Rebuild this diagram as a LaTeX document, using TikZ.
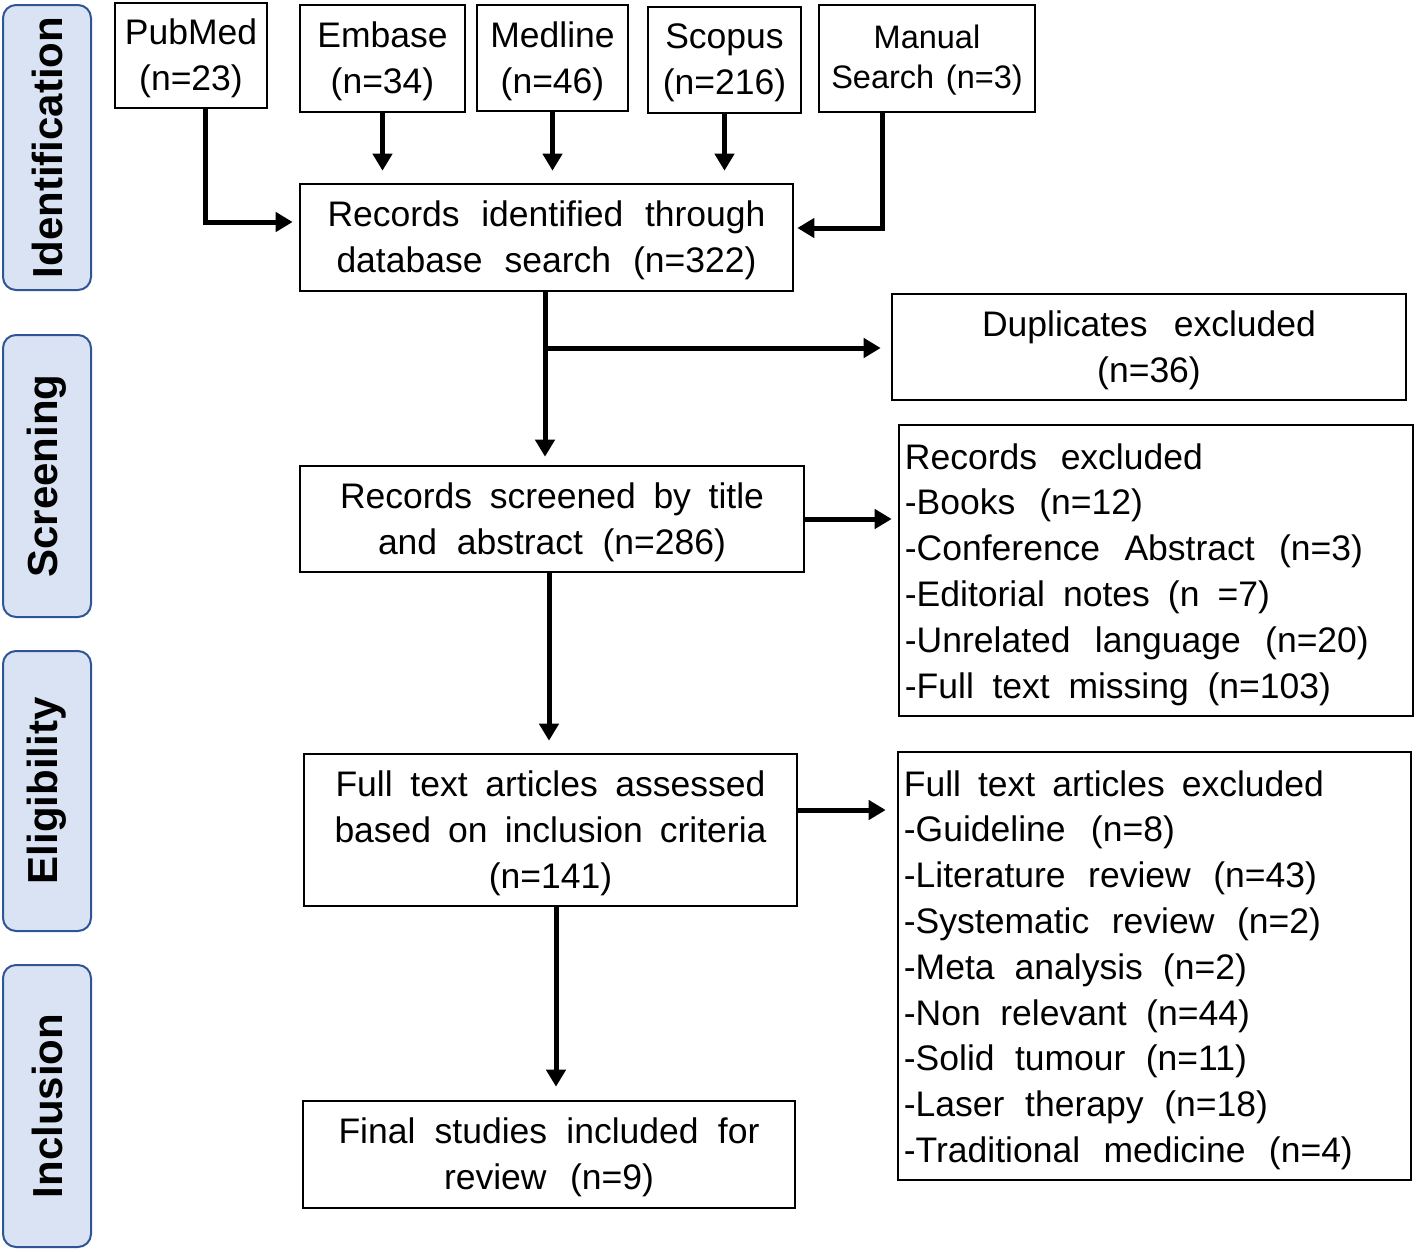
\documentclass[tikz,border=0pt]{standalone}
\usepackage{fontspec}
\setmainfont{Liberation Sans}
\newfontfamily\boxfont[WordSpace=2.0]{Liberation Sans}
\newfontfamily\listfont[WordSpace=2.0]{Liberation Sans}
\newfontfamily\manfont[WordSpace=1.3]{Liberation Sans}
\usetikzlibrary{arrows.meta}
\newcommand\jline[2]{\makebox[#1pt][s]{#2}}
\definecolor{sidefill}{RGB}{218,227,243}
\definecolor{sidedraw}{RGB}{47,85,151}
\tikzset{
  frame/.style={draw, line width=2.6pt, inner sep=0pt},
  ctext/.style={inner sep=0pt, align=center, font=\boxfont\fontsize{35.5}{46}\selectfont},
  ltext/.style={inner sep=0pt, align=left, font=\listfont\fontsize{35.5}{45.8}\selectfont},
  side/.style={draw=sidedraw, fill=sidefill, line width=2pt, rounded corners=13pt,
    minimum width=88pt, inner sep=0pt},
  sidetext/.style={rotate=90, font=\bfseries\fontsize{42}{48}\selectfont},
  arr/.style={line width=5pt, -{Triangle[length=17pt,width=19pt]}},
}
\begin{document}
\begin{tikzpicture}[x=1pt,y=-1pt]
\useasboundingbox (0,0) rectangle (1416,1251);
% side labels
\node[side, minimum height=285pt] (sid) at (47,147.5) {};
\node[sidetext] (tid) at (sid.center) {Identification};
\node[side, minimum height=282pt] (ssc) at (47,476) {};
\node[sidetext] (tsc) at (ssc.center) {Screening};
\node[side, minimum height=280pt] (sel) at (47,791) {};
\node[sidetext] (tel) at (sel.center) {Eligibility};
\node[side, minimum height=282pt] (sin) at (47,1106) {};
\node[sidetext] (tin) at (sin.center) {Inclusion};
% sources
\node[frame, minimum width=152pt, minimum height=105pt] (pub) at (191,55.5) {};
\node[ctext] (pubt) at ([yshift=-3pt]pub.center) {PubMed\\(n=23)};
\node[frame, minimum width=165pt, minimum height=107pt] (emb) at (382.5,58.5) {};
\node[ctext] (embt) at ([yshift=-3pt]emb.center) {Embase\\(n=34)};
\node[frame, minimum width=151pt, minimum height=106pt] (med) at (552.5,58) {};
\node[ctext] (medt) at ([yshift=-3pt]med.center) {Medline\\(n=46)};
\node[frame, minimum width=153pt, minimum height=106pt] (sco) at (724.5,60) {};
\node[ctext] (scot) at ([yshift=-3pt]sco.center) {Scopus\\(n=216)};
\node[frame, minimum width=216pt, minimum height=107pt] (man) at (927,58.5) {};
\node[ctext, font=\manfont\fontsize{32.5}{40}\selectfont] (mant) at ([yshift=-2pt]man.center) {Manual\\Search (n=3)};
% main flow
\node[frame, minimum width=493pt, minimum height=107pt] (rid) at (546.5,237.5) {};
\node[ctext] (ridt) at ([yshift=-3pt]rid.center) {\jline{438}{Records identified through}\\\jline{420}{database search (n=322)}};
\node[frame, minimum width=514pt, minimum height=106pt] (dup) at (1149,347) {};
\node[ctext] (dupt) at ([yshift=-3pt]dup.center) {\jline{334}{Duplicates excluded}\\(n=36)};
\node[frame, minimum width=504pt, minimum height=106pt] (rsc) at (552,519) {};
\node[ctext] (rsct) at ([yshift=-3pt]rsc.center) {\jline{424}{Records screened by title}\\\jline{348}{and abstract (n=286)}};
\node[frame, minimum width=514pt, minimum height=291pt] (rex) at (1156,570.5) {};
\node[ltext, anchor=west] (rext) at ([xshift=7pt,yshift=-4pt]rex.west) {\jline{298}{Records excluded}\\\jline{238}{-Books (n=12)}\\\jline{458}{-Conference Abstract (n=3)}\\\jline{365}{-Editorial notes (n =7)}\\\jline{464}{-Unrelated language (n=20)}\\\jline{426}{-Full text missing (n=103)}};
\node[frame, minimum width=493pt, minimum height=152pt] (fta) at (550.5,830) {};
\node[ctext] (ftat) at ([yshift=-3pt]fta.center) {\jline{430}{Full text articles assessed}\\\jline{432}{based on inclusion criteria}\\(n=141)};
\node[frame, minimum width=513pt, minimum height=428pt] (fex) at (1154.5,966) {};
\node[ltext, anchor=west] (fext) at ([xshift=7pt,yshift=-4pt]fex.west) {\jline{420}{Full text articles excluded}\\\jline{271}{-Guideline (n=8)}\\\jline{413}{-Literature review (n=43)}\\\jline{417}{-Systematic review (n=2)}\\\jline{343}{-Meta analysis (n=2)}\\\jline{346}{-Non relevant (n=44)}\\\jline{343}{-Solid tumour (n=11)}\\\jline{364}{-Laser therapy (n=18)}\\\jline{449}{-Traditional medicine (n=4)}};
\node[frame, minimum width=492pt, minimum height=107pt] (fin) at (549,1154.5) {};
\node[ctext] (fint) at ([yshift=-3pt]fin.center) {\jline{421}{Final studies included for}\\\jline{210}{review (n=9)}};
% connectors
\coordinate (pj) at (205,222);
\coordinate (mj) at (882,228);
\coordinate (br) at (545,348);
\coordinate (c2) at (549,0);
\coordinate (c3) at (556,0);
\draw[arr] (pub.south -| pj) |- ([xshift=-6pt]rid.west |- pj);
\draw[arr] (emb.south) -- ([yshift=12pt]emb.south |- rid.north);
\draw[arr] (med.south) -- ([yshift=12pt]med.south |- rid.north);
\draw[arr] (sco.south) -- ([yshift=12pt]sco.south |- rid.north);
\draw[arr] (man.south -| mj) |- ([xshift=3pt]rid.east |- mj);
\draw[line width=5pt] (rid.south -| br) -- (br);
\draw[arr] ([xshift=-2.5pt]br) -- ([xshift=-10pt]dup.west |- br);
\draw[arr] (br) -- ([yshift=8pt]rsc.north -| br);
\draw[arr] (rsc.east) -- ([xshift=-6pt]rex.west |- rsc.east);
\draw[arr] (rsc.south -| c2) -- ([yshift=12pt]fta.north -| c2);
\draw[arr] ([yshift=20pt]fta.east) -- ([xshift=-11pt,yshift=20pt]fex.west |- fta.east);
\draw[arr] (fta.south -| c3) -- ([yshift=13pt]fin.north -| c3);
\end{tikzpicture}
\end{document}
